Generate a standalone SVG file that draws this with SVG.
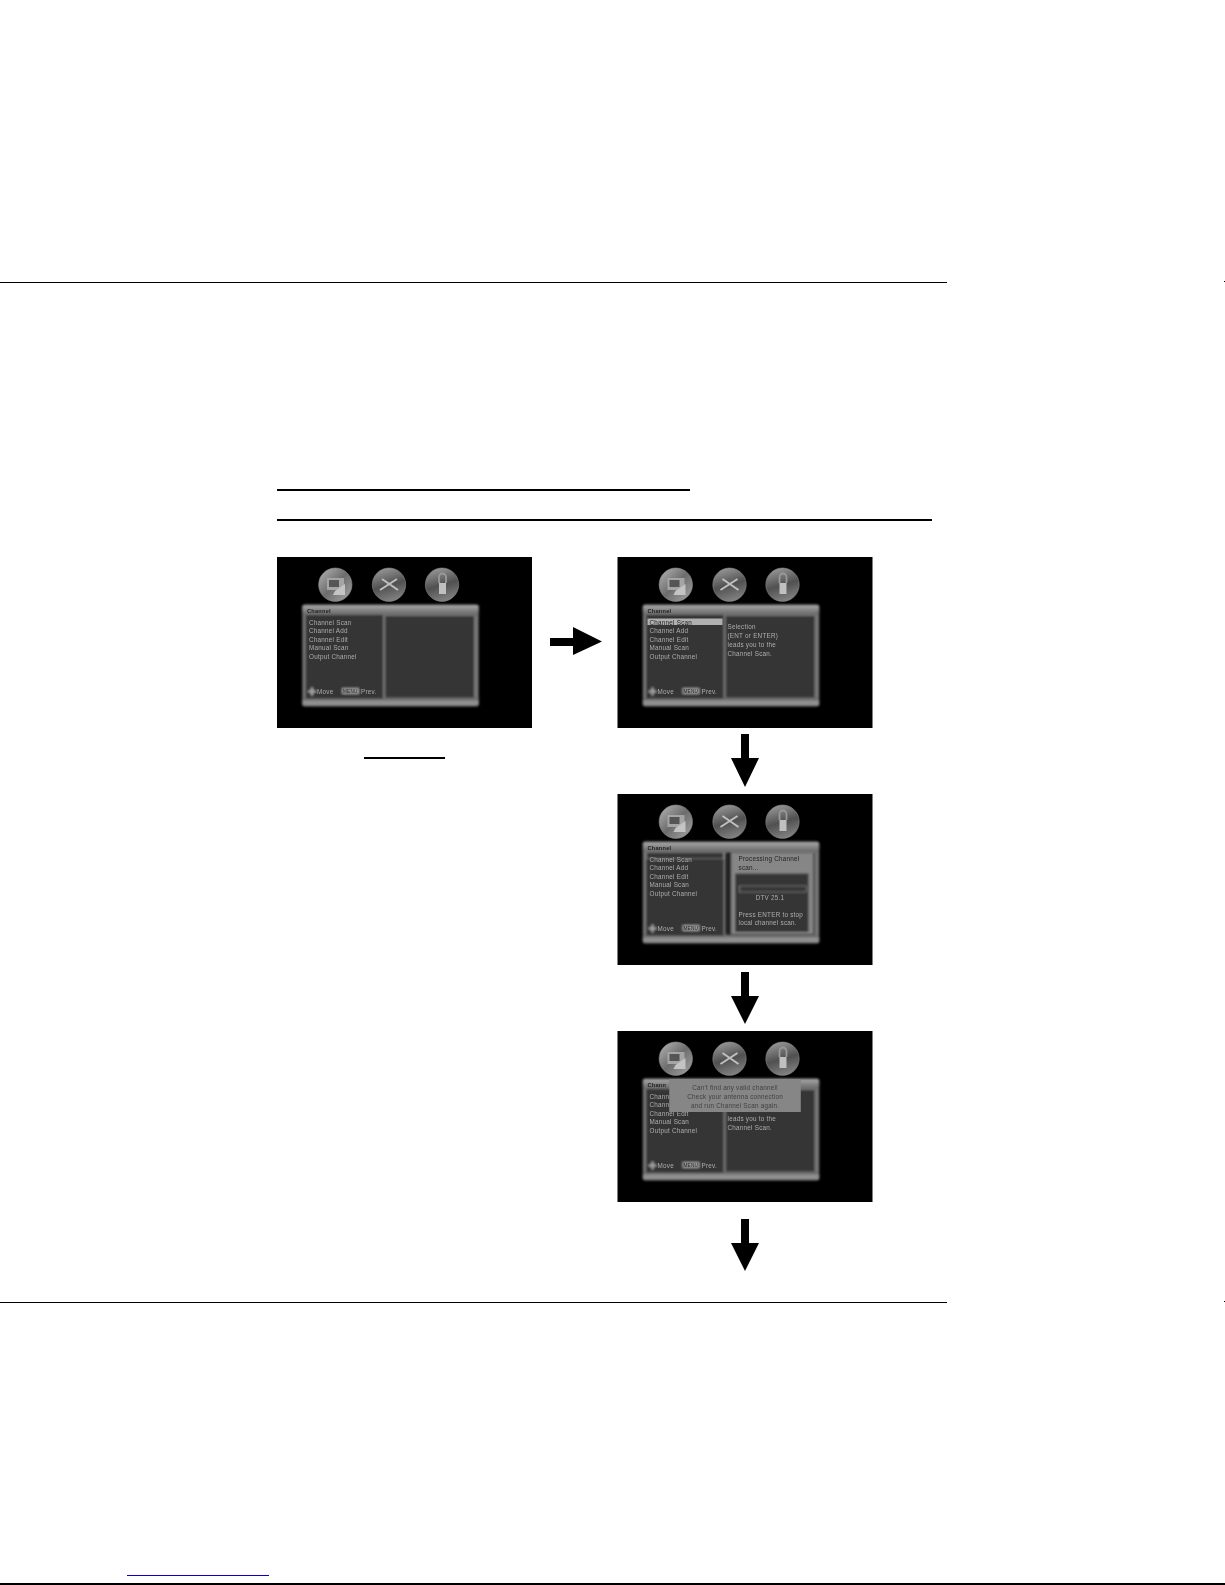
<svg xmlns="http://www.w3.org/2000/svg" xmlns:xlink="http://www.w3.org/1999/xlink" width="1225" height="1585" viewBox="0 0 1225 1585">
<style>
.t{font-family:"Liberation Sans",Arial,sans-serif;font-size:6.3px;fill:#adadad;letter-spacing:.25px}
.h{font-weight:bold;fill:#1c1c1c;font-size:5.6px}
.d{fill:#222}
.c{text-anchor:middle}
.rule{stroke:#000;fill:none}
.arr{fill:#000}
</style>
<defs>
<filter id="b" x="-5%" y="-5%" width="110%" height="110%"><feGaussianBlur stdDeviation="0.8"/></filter>
<filter id="bi" x="-5%" y="-5%" width="110%" height="110%"><feGaussianBlur stdDeviation="0.7"/></filter>
<filter id="bt" x="-10%" y="-50%" width="120%" height="200%"><feGaussianBlur stdDeviation="0.55"/></filter>
<linearGradient id="orb" x1="0.2" y1="0" x2="0.5" y2="1"><stop offset="0" stop-color="#9c9c9c"/><stop offset=".55" stop-color="#505050"/><stop offset="1" stop-color="#808080"/></linearGradient>
<linearGradient id="orb1" x1="0" y1="0" x2="1" y2="1"><stop offset="0" stop-color="#b8b8b8"/><stop offset=".5" stop-color="#6c6c6c"/><stop offset="1" stop-color="#a8a8a8"/></linearGradient>
<linearGradient id="bar" x1="0" y1="0" x2="0" y2="1"><stop offset="0" stop-color="#aaa"/><stop offset="1" stop-color="#666"/></linearGradient>
<linearGradient id="foot" x1="0" y1="0" x2="0" y2="1"><stop offset="0" stop-color="#5c5c5c"/><stop offset=".5" stop-color="#969696"/><stop offset="1" stop-color="#808080"/></linearGradient>
<g id="chrome">
<rect width="255" height="171" fill="#000"/>
<g filter="url(#bi)">
<circle cx="58.3" cy="27.7" r="16.7" fill="url(#orb1)" stroke="#888" stroke-width=".6"/>
<rect x="50" y="21" width="17" height="12" fill="#a5a5a5"/><rect x="52" y="23" width="10" height="7" fill="#555"/><path d="M58 34L68 27V38H56Z" fill="#c4c4c4"/>
<circle cx="112" cy="27.7" r="16.7" fill="url(#orb)" stroke="#888" stroke-width=".6"/>
<path d="M103 33L120 22M105 22L121 33" stroke="#c0c0c0" stroke-width="2" fill="none"/>
<circle cx="165" cy="27.7" r="16.7" fill="url(#orb)" stroke="#888" stroke-width=".6"/>
<rect x="162" y="26" width="7" height="11" fill="#c0c0c0"/><path d="M162 26V20a3.5 3.5 0 0 1 7 0V26" stroke="#999" stroke-width="1.8" fill="none"/>
</g>
<g filter="url(#b)">
<rect x="25.3" y="47.7" width="176.4" height="101.6" rx="2" fill="#747474"/>
<rect x="25.3" y="47.7" width="176.4" height="10" rx="2" fill="url(#bar)"/>
<rect x="25.3" y="141" width="176.4" height="8.3" rx="2" fill="url(#foot)"/>
<rect x="28.7" y="58" width="77.3" height="83.5" fill="#363636"/>
<rect x="108.3" y="59" width="88.7" height="81.5" fill="#363636"/>
<rect x="31" y="133.5" width="8" height="2" fill="#aaa"/><rect x="34" y="130.5" width="2" height="8" fill="#aaa"/>
<rect x="65" y="131" width="17" height="6" fill="#969696"/>
</g>
</g>
</defs>
<g id="page-rules">
<line class="rule" x1="0" y1="282.5" x2="947" y2="282.5" stroke-width="1"/>
<line class="rule" x1="1224" y1="281.5" x2="1225" y2="281.5" stroke-width="1"/>
<line class="rule" x1="277" y1="490" x2="690" y2="490" stroke-width="2"/>
<line class="rule" x1="277" y1="520" x2="932" y2="520" stroke-width="2"/>
<line class="rule" x1="364" y1="758" x2="445" y2="758" stroke-width="2"/>
<line class="rule" x1="0" y1="1302.5" x2="947" y2="1302.5" stroke-width="1"/>
<line class="rule" x1="1224" y1="1301.5" x2="1225" y2="1301.5" stroke-width="1"/>
<line x1="127" y1="1575.5" x2="269" y2="1575.5" stroke="#0000d0" stroke-width="1"/>
<line class="rule" x1="0" y1="1584" x2="1225" y2="1584" stroke-width="2"/>
</g>
<g id="screen-1" transform="translate(277 557)">
<use xlink:href="#chrome" href="#chrome"/>
<g filter="url(#bt)">
<text class="t h" x="30" y="56">Channel</text>
<text class="t" x="32" y="67.5">Channel Scan</text>
<text class="t" x="32" y="76">Channel Add</text>
<text class="t" x="32" y="84.7">Channel Edit</text>
<text class="t" x="32" y="93.4">Manual Scan</text>
<text class="t" x="32" y="102">Output Channel</text>
<text class="t" x="40" y="136.7">Move</text>
<text class="t d" x="66" y="136.3" style="font-size:4.6px">MENU</text>
<text class="t" x="84" y="136.7">Prev.</text>
</g>
</g>
<g id="screen-2" transform="translate(617.5 557)">
<use xlink:href="#chrome" href="#chrome"/>
<g filter="url(#bt)">
<rect x="30" y="61.5" width="75" height="6.5" fill="#b0b0b0"/>
<text class="t h" x="30" y="56">Channel</text>
<text class="t d" x="32" y="67.5">Channel Scan</text>
<text class="t" x="32" y="76">Channel Add</text>
<text class="t" x="32" y="84.7">Channel Edit</text>
<text class="t" x="32" y="93.4">Manual Scan</text>
<text class="t" x="32" y="102">Output Channel</text>
<text class="t" x="110" y="72">Selection</text>
<text class="t" x="110" y="81">(ENT or ENTER)</text>
<text class="t" x="110" y="90">leads you to the</text>
<text class="t" x="110" y="99">Channel Scan.</text>
<text class="t" x="40" y="136.7">Move</text>
<text class="t d" x="66" y="136.3" style="font-size:4.6px">MENU</text>
<text class="t" x="84" y="136.7">Prev.</text>
</g>
</g>
<g id="screen-3" transform="translate(617.5 794)">
<use xlink:href="#chrome" href="#chrome"/>
<g filter="url(#b)">
<rect x="108.3" y="59" width="5.5" height="81" fill="#222"/>
<rect x="113.7" y="58.5" width="82.3" height="81.7" fill="#868686"/>
<rect x="117.7" y="79.5" width="73.3" height="58.5" fill="#363636"/>
<rect x="29" y="58.5" width="77" height="6.2" fill="none" stroke="#999" stroke-width=".7"/>
<rect x="122" y="92" width="66.7" height="6" fill="none" stroke="#a0a0a0" stroke-width=".6"/>
</g>
<g filter="url(#bt)">
<text class="t h" x="30" y="56">Channel</text>
<text class="t" x="32" y="67.5">Channel Scan</text>
<text class="t" x="32" y="76">Channel Add</text>
<text class="t" x="32" y="84.7">Channel Edit</text>
<text class="t" x="32" y="93.4">Manual Scan</text>
<text class="t" x="32" y="102">Output Channel</text>
<text class="t d" x="121" y="67">Processing Channel</text>
<text class="t d" x="121" y="76">scan...</text>
<text class="t c" x="152.5" y="105.5">DTV 25.1</text>
<text class="t" x="121" y="123">Press ENTER to stop</text>
<text class="t" x="121" y="131">local channel scan.</text>
<text class="t" x="40" y="136.7">Move</text>
<text class="t d" x="66" y="136.3" style="font-size:4.6px">MENU</text>
<text class="t" x="84" y="136.7">Prev.</text>
</g>
</g>
<g id="screen-4" transform="translate(617.5 1031)">
<use xlink:href="#chrome" href="#chrome"/>
<g filter="url(#bt)">
<text class="t" x="32" y="84.7">Channel Edit</text>
<text class="t" x="32" y="93.4">Manual Scan</text>
<text class="t" x="32" y="102">Output Channel</text>
<text class="t" x="110" y="90">leads you to the</text>
<text class="t" x="110" y="99">Channel Scan.</text>
<text class="t" x="40" y="136.7">Move</text>
<text class="t d" x="66" y="136.3" style="font-size:4.6px">MENU</text>
<text class="t" x="84" y="136.7">Prev.</text>
<rect x="51.7" y="48" width="131.6" height="33" fill="#868686"/>
<text class="t h" x="30" y="56">Chann</text>
<text class="t" x="32" y="67.5">Chann</text>
<text class="t" x="32" y="76">Chann</text>
<text class="t d c" x="117.7" y="58.5" style="fill:#404040">Can't find any valid channel!</text>
<text class="t d c" x="117.7" y="67.5" style="fill:#404040">Check your antenna connection</text>
<text class="t d c" x="117.7" y="76.5" style="fill:#404040">and run Channel Scan again.</text>
</g>
</g>
<g id="connectors">
<path class="arr" d="M550 638H573V627L602 641.5L573 655V646H550Z"/>
<path class="arr" d="M741 734H749V758H759L745 787L731 758H741Z"/>
<path class="arr" d="M741 972H749V996H759L745 1024L731 996H741Z"/>
<path class="arr" d="M741 1219H749V1243H759L745 1271L731 1243H741Z"/>
</g>
</svg>
